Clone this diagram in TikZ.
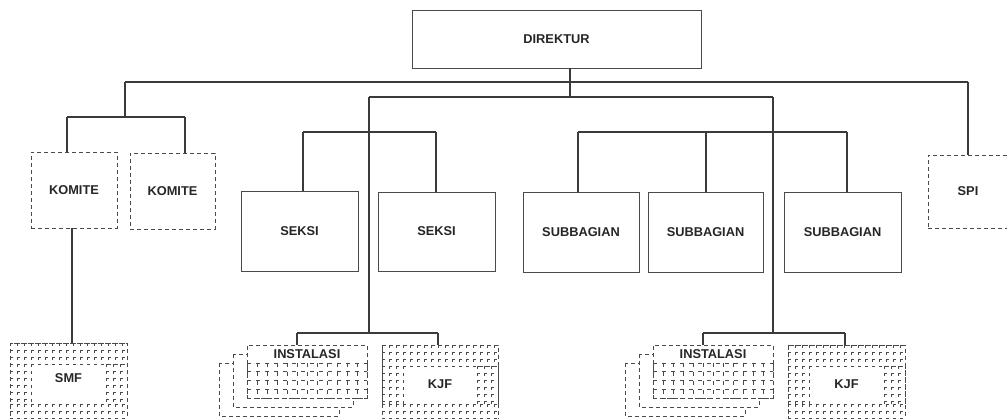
\documentclass[tikz,border=0pt]{standalone}
\usepackage{fontspec}
\setmainfont{Liberation Sans}
\definecolor{ln}{HTML}{3A3A3A}
\definecolor{bx}{HTML}{4A4A4A}
\tikzset{
  conn/.style={draw=ln, line width=1.1pt},
  box/.style={draw=bx, line width=0.9pt, fill=white, inner sep=0pt, font=\fontsize{12.8}{15}\selectfont\bfseries, text=black!85},
  dbox/.style={box, dash pattern=on 4pt off 3pt},
  card/.style={draw=bx, line width=0.8pt, fill=white, dash pattern=on 4pt off 3pt},
  hatch/.style={draw=bx, line width=0.55pt, dash pattern=on 3pt off 4pt},
}
\newcommand\gridrect[6]{%
  \pgfmathsetmacro\gxa{#1+#5}%
  \pgfmathsetmacro\gxb{#3+0.01}%
  \pgfmathsetmacro\gya{#2+#6}%
  \pgfmathsetmacro\gyb{#4+0.01}%
  \foreach \gx in {#1,\gxa,...,\gxb}{\draw[hatch] (\gx,#2) -- (\gx,#4);}%
  \foreach \gy in {#2,\gya,...,\gyb}{\draw[hatch] (#1,\gy) -- (#3,\gy);}%
}
\newcommand\hatchring[4]{%
  \pgfmathsetmacro\hra{#2+21}%
  \pgfmathsetmacro\hrb{#4-21}%
  \pgfmathsetmacro\hrc{#1+21}%
  \pgfmathsetmacro\hrd{#3-21}%
  \gridrect{#1}{#2}{#3}{\hra}{7}{7}%
  \gridrect{#1}{\hrb}{#3}{#4}{7}{7}%
  \gridrect{#1}{\hra}{\hrc}{\hrb}{7}{7}%
  \gridrect{\hrd}{\hra}{#3}{\hrb}{7}{7}%
}
\begin{document}
\begin{tikzpicture}[x=1pt,y=-1pt]
\useasboundingbox (0,0) rectangle (1007,419);
\clip (0,0) rectangle (1007,419);
\fill[white] (0,0) rectangle (1007,419);

% ---- boxes ----
\node[box, minimum width=289pt, minimum height=58pt] (dir) at (556.5,39) {DIREKTUR};
\node[dbox, minimum width=86pt, minimum height=76pt] (ko1) at (74,190) {KOMITE};
\node[dbox, minimum width=85pt, minimum height=76pt] (ko2) at (172.5,191) {KOMITE};
\node[box, minimum width=117pt, minimum height=80pt] (se1) at (299.5,231) {SEKSI};
\node[box, minimum width=117pt, minimum height=79pt] (se2) at (436.5,231.5) {SEKSI};
\node[box, minimum width=116pt, minimum height=80pt] (sb1) at (581,232) {SUBBAGIAN};
\node[box, minimum width=115pt, minimum height=80pt] (sb2) at (705.5,232) {SUBBAGIAN};
\node[box, minimum width=117pt, minimum height=80pt] (sb3) at (842.5,232) {SUBBAGIAN};
\node[dbox, minimum width=80pt, minimum height=73pt] (spi) at (968,191.5) {SPI};

% ---- SMF / KJF (hatched frames) ----
\node[dbox, minimum width=117pt, minimum height=82pt, text height=40pt, text depth=42pt] (smf) at (68.5,384) {SMF};
\hatchring{10}{343}{127}{425}
\node[dbox, minimum width=116pt, minimum height=80pt, text height=44pt, text depth=36pt] (kjf1) at (440,385) {KJF};
\hatchring{382}{345}{498}{425}
\node[dbox, minimum width=117pt, minimum height=80pt, text height=44pt, text depth=36pt] (kjf2) at (846.5,385) {KJF};
\hatchring{788}{345}{905}{425}

% ---- INSTALASI stacks ----
\draw[card] (219,363) rectangle (339,416);
\draw[card] (233,354) rectangle (353,407);
\node[dbox, minimum width=120pt, minimum height=53pt, text height=13.5pt, text depth=39.5pt] (ins1) at (307,371.5) {INSTALASI};
\begin{scope}[hatch/.style={draw=bx, line width=0.55pt, dash pattern=on 4pt off 5pt}]
\gridrect{247}{363}{367}{398}{10}{8.75}
\end{scope}

\draw[card] (625,363) rectangle (745,416);
\draw[card] (639,354) rectangle (759,407);
\node[dbox, minimum width=120pt, minimum height=53pt, text height=13.5pt, text depth=39.5pt] (ins2) at (713,371.5) {INSTALASI};
\begin{scope}[hatch/.style={draw=bx, line width=0.55pt, dash pattern=on 4pt off 5pt}]
\gridrect{653}{363}{773}{398}{10}{8.75}
\end{scope}

% ---- junction coordinates ----
\coordinate (jd) at (570,97);
\coordinate (oL) at (125,82);
\coordinate (oR) at (968,82);
\coordinate (kb) at (125,117);
\coordinate (kL) at (67,117);
\coordinate (kR) at (185,117);
\coordinate (ks) at (72,300);
\coordinate (iL) at (369,97);
\coordinate (iR) at (773,97);
\coordinate (sL) at (303,132);
\coordinate (sR) at (436,132);
\coordinate (bL) at (578,132);
\coordinate (bM) at (706,132);
\coordinate (bR) at (847,132);
\coordinate (fL) at (369,333);
\coordinate (fR) at (773,333);
\coordinate (fL1) at (297,333);
\coordinate (fL2) at (438,333);
\coordinate (fR1) at (703,333);
\coordinate (fR2) at (845,333);

% ---- connectors ----
\draw[conn] (dir.south -| jd) -- (jd);
\draw[conn] (oL) -- (oR);
\draw[conn] (oL) -- (kb);
\draw[conn] (kL) -- (kR);
\draw[conn] (kL) -- (kL |- ko1.north);
\draw[conn] (kR) -- (kR |- ko2.north);
\draw[conn] (oR) -- (oR |- spi.north);
\draw[conn] (ko1.south -| ks) -- (ks |- smf.north);

\draw[conn] (iL) -- (iR);
\draw[conn] (iL) -- (fL);
\draw[conn] (iR) -- (fR);
\draw[conn] (fL1) -- (fL2);
\draw[conn] (fL1) -- (fL1 |- ins1.north);
\draw[conn] (fL2) -- (fL2 |- kjf1.north);
\draw[conn] (fR1) -- (fR2);
\draw[conn] (fR1) -- (fR1 |- ins2.north);
\draw[conn] (fR2) -- (fR2 |- kjf2.north);

\draw[conn] (sL) -- (sR);
\draw[conn] (sL) -- (sL |- se1.north);
\draw[conn] (sR) -- (sR |- se2.north);
\draw[conn] (bL) -- (bR);
\draw[conn] (bL) -- (bL |- sb1.north);
\draw[conn] (bM) -- (bM |- sb2.north);
\draw[conn] (bR) -- (bR |- sb3.north);
\end{tikzpicture}
\end{document}
